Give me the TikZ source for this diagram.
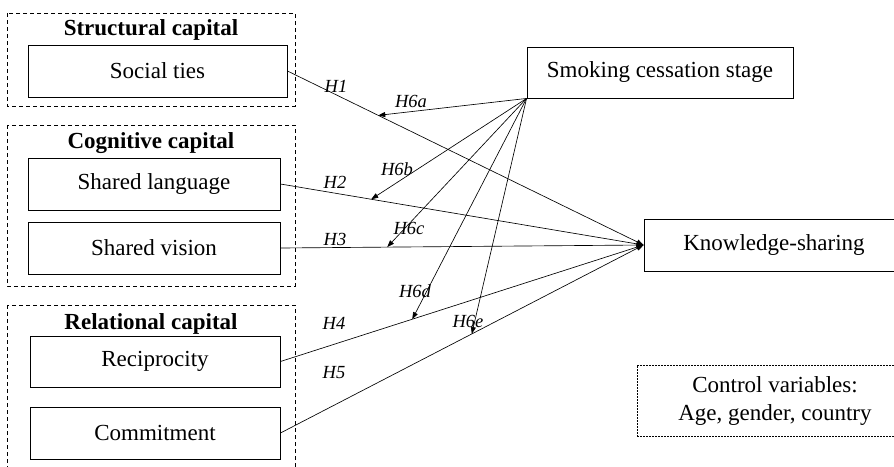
\documentclass[tikz,border=0pt]{standalone}
\usepackage{fontspec}
\setmainfont{Liberation Serif}
\usetikzlibrary{arrows.meta}
\begin{document}
\begin{tikzpicture}[x=1pt,y=-1pt,
  box/.style={draw, line width=0.9pt, inner sep=0pt, font=\fontsize{23}{27}\selectfont},
  grp/.style={draw, line width=0.9pt, dash pattern=on 4pt off 3pt},
  ttl/.style={font=\fontsize{23}{27}\selectfont\bfseries, inner sep=0pt},
  lbl/.style={font=\fontsize{18.5}{21}\selectfont\itshape, inner sep=0pt},
  conn/.style={line width=0.65pt, -{Triangle[length=7pt,width=5pt]}},
  harr/.style={line width=0.65pt, -{Triangle[length=7pt,width=5pt]}}
]
\useasboundingbox (0,0) rectangle (894,466);
% groups
\draw[grp] (7,13) rectangle (295,106);
\draw[grp] (7,125) rectangle (295,286);
\draw[grp] (7,305) rectangle (295,480);
\node[ttl] (tS) at (151,30) {Structural capital};
\node[ttl] (tC) at (151,143) {Cognitive capital};
\node[ttl] (tR) at (151,324) {Relational capital};
% boxes
\node[box, minimum width=259pt, minimum height=52pt] (social) at (157.5,71) {Social ties};
\node[box, minimum width=252pt, minimum height=52pt] (lang) at (154,184) {Shared language};
\node[box, minimum width=252pt, minimum height=52pt] (vision) at (154,248) {Shared vision};
\node[box, minimum width=250pt, minimum height=51pt] (recip) at (155,361.5) {Reciprocity};
\node[box, minimum width=250pt, minimum height=52pt] (commit) at (155,433) {Commitment};
\node[box, minimum width=266pt, minimum height=51pt] (smoke) at (660,72.5) {Smoking cessation stage};
\node[box, minimum width=260pt, minimum height=52pt] (know) at (774,245) {Knowledge-sharing};
\node[draw, line width=0.8pt, dash pattern=on 2pt off 1pt, minimum width=276pt, minimum height=71pt,
  inner sep=0pt, align=center, font=\fontsize{23}{28}\selectfont] (ctrl) at (775,400.5)
  {Control variables:\\Age, gender, country};
% H paths
\draw[conn] (social.east) -- coordinate[pos=0.255] (t1) (know.west);
\draw[conn] (lang.east) -- coordinate[pos=0.25] (t2) (know.west);
\draw[conn] (vision.east) -- coordinate[pos=0.294] (t3) (know.west);
\draw[conn] (recip.east) -- coordinate[pos=0.363] (t4) (know.west);
\draw[conn] (commit.east) -- coordinate[pos=0.527] (t5) (know.west);
% H6 arrows
\draw[harr] (smoke.south west) -- (t1);
\draw[harr] (smoke.south west) -- (t2);
\draw[harr] (smoke.south west) -- (t3);
\draw[harr] (smoke.south west) -- (t4);
\draw[harr] (smoke.south west) -- (t5);
% labels
\node[lbl] (l1) at (336,86) {H1};
\node[lbl] (l6a) at (411,101) {H6a};
\node[lbl] (l6b) at (397,169) {H6b};
\node[lbl] (l2) at (335,182) {H2};
\node[lbl] (l6c) at (409,228) {H6c};
\node[lbl] (l3) at (335,239) {H3};
\node[lbl] (l6d) at (415,291) {H6d};
\node[lbl] (l4) at (334,323) {H4};
\node[lbl] (l6e) at (468,321) {H6e};
\node[lbl] (l5) at (334,373) {H5};
\end{tikzpicture}
\end{document}
